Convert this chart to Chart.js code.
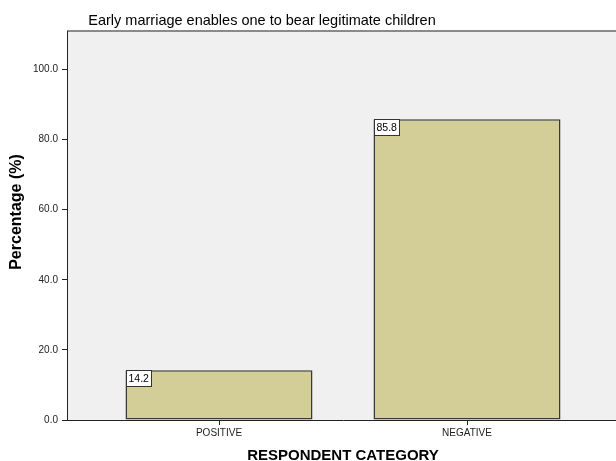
<!DOCTYPE html>
<html>
<head>
<meta charset="utf-8">
<title>Early marriage enables one to bear legitimate children</title>
<script src="https://cdn.jsdelivr.net/npm/chart.js@4/dist/chart.umd.min.js"></script>
<style>
  html, body { margin: 0; padding: 0; background: #fff; overflow: hidden; }
  #wrap { width: 640px; height: 461px; }
</style>
</head>
<body>
<div id="wrap"><canvas id="barChart" width="640" height="461"></canvas></div>
<script>
// ---------- data ----------
const categories = ['POSITIVE', 'NEGATIVE'];
const percentages = [14.2, 85.8];
const yTicks = [0, 20, 40, 60, 80, 100];

const chartTitle = 'Early marriage enables one to bear legitimate children';
const xTitle = 'RESPONDENT CATEGORY';
const yTitle = 'Percentage (%)';

const FONT = "'Liberation Sans', Arial, Helvetica, sans-serif";

// ---------- plot background, frame and titles ----------
const frame = {
  id: 'frame',
  beforeDraw(chart) {
    const { ctx, chartArea: a } = chart;
    ctx.save();
    ctx.fillStyle = '#f0f0f0';
    ctx.fillRect(a.left, a.top, a.right - a.left, a.bottom - a.top);
    ctx.strokeStyle = '#8a8a8a';
    ctx.lineWidth = 2;
    ctx.beginPath();
    ctx.moveTo(a.left, a.top);
    ctx.lineTo(a.right, a.top);
    ctx.stroke();
    ctx.restore();
  },
  afterDraw(chart) {
    const { ctx } = chart;
    ctx.save();
    ctx.fillStyle = '#000';
    ctx.textAlign = 'center';
    ctx.textBaseline = 'alphabetic';

    // chart title
    ctx.font = '14.5px ' + FONT;
    ctx.fillText(chartTitle, 262, 25);

    // x axis title
    ctx.font = 'bold 15px ' + FONT;
    ctx.fillText(xTitle, 343, 460);

    // y axis title, rotated
    ctx.font = 'bold 16px ' + FONT;
    ctx.translate(21, 212);
    ctx.rotate(-Math.PI / 2);
    ctx.fillText(yTitle, 0, 0);
    ctx.restore();
  }
};

// ---------- value boxes at the top-left corner of each bar ----------
const valueBoxes = {
  id: 'valueBoxes',
  afterDatasetsDraw(chart) {
    const { ctx } = chart;
    const meta = chart.getDatasetMeta(0);
    ctx.save();
    ctx.font = '10.5px ' + FONT;
    ctx.textBaseline = 'middle';
    ctx.textAlign = 'left';
    meta.data.forEach(function (bar, i) {
      const text = percentages[i].toFixed(1);
      const w = Math.round(ctx.measureText(text).width) + 5;
      const h = 16;
      const x = Math.round(bar.x - bar.width / 2) + 0.5;
      const y = Math.round(bar.y) + 0.5;
      ctx.fillStyle = '#fff';
      ctx.fillRect(x, y, w, h);
      ctx.strokeStyle = '#333';
      ctx.lineWidth = 1;
      ctx.strokeRect(x, y, w, h);
      ctx.fillStyle = '#000';
      ctx.fillText(text, x + 2, y + h / 2 + 0.5);
    });
    ctx.restore();
  }
};

// ---------- chart ----------
// x is a linear scale so the two categories sit 248px apart with wide side margins
const xMin = 1 - 152 / 248;
const xMax = 2 + 152 / 248;

new Chart(document.getElementById('barChart').getContext('2d'), {
  type: 'bar',
  data: {
    datasets: [{
      data: percentages.map(function (v, i) { return { x: i + 1, y: v }; }),
      backgroundColor: '#d3ce97',
      borderColor: '#383838',
      borderWidth: 1.5,
      borderSkipped: false,
      categoryPercentage: 1,
      barPercentage: 0.754,
    }],
  },
  options: {
    responsive: false,
    animation: false,
    layout: { padding: { top: 31, right: 21, left: 0, bottom: 0 } },
    plugins: {
      legend: { display: false },
      tooltip: { enabled: false },
      title: { display: false },
    },
    scales: {
      x: {
        type: 'linear',
        min: xMin,
        max: xMax,
        offset: false,
        afterBuildTicks: function (scale) {
          scale.ticks = categories.map(function (c, i) { return { value: i + 1 }; });
        },
        afterFit: function (scale) { scale.height = 41; },
        grid: { drawOnChartArea: false, offset: false, tickLength: 5, color: '#222' },
        border: { color: '#222', width: 1 },
        ticks: {
          autoSkip: false,
          maxRotation: 0,
          padding: 2,
          color: '#222',
          font: { family: FONT, size: 10 },
          callback: function (value) { return categories[value - 1] || ''; },
        },
      },
      y: {
        min: 0,
        max: 111,
        afterBuildTicks: function (scale) {
          scale.ticks = yTicks.map(function (v) { return { value: v }; });
        },
        afterFit: function (scale) { scale.width = 67; },
        grid: { drawOnChartArea: false, tickLength: 5, color: '#222' },
        border: { color: '#222', width: 1 },
        ticks: {
          padding: 4,
          color: '#222',
          font: { family: FONT, size: 10 },
          callback: function (value) { return value.toFixed(1); },
        },
      },
    },
  },
  plugins: [frame, valueBoxes],
});
</script>
</body>
</html>
